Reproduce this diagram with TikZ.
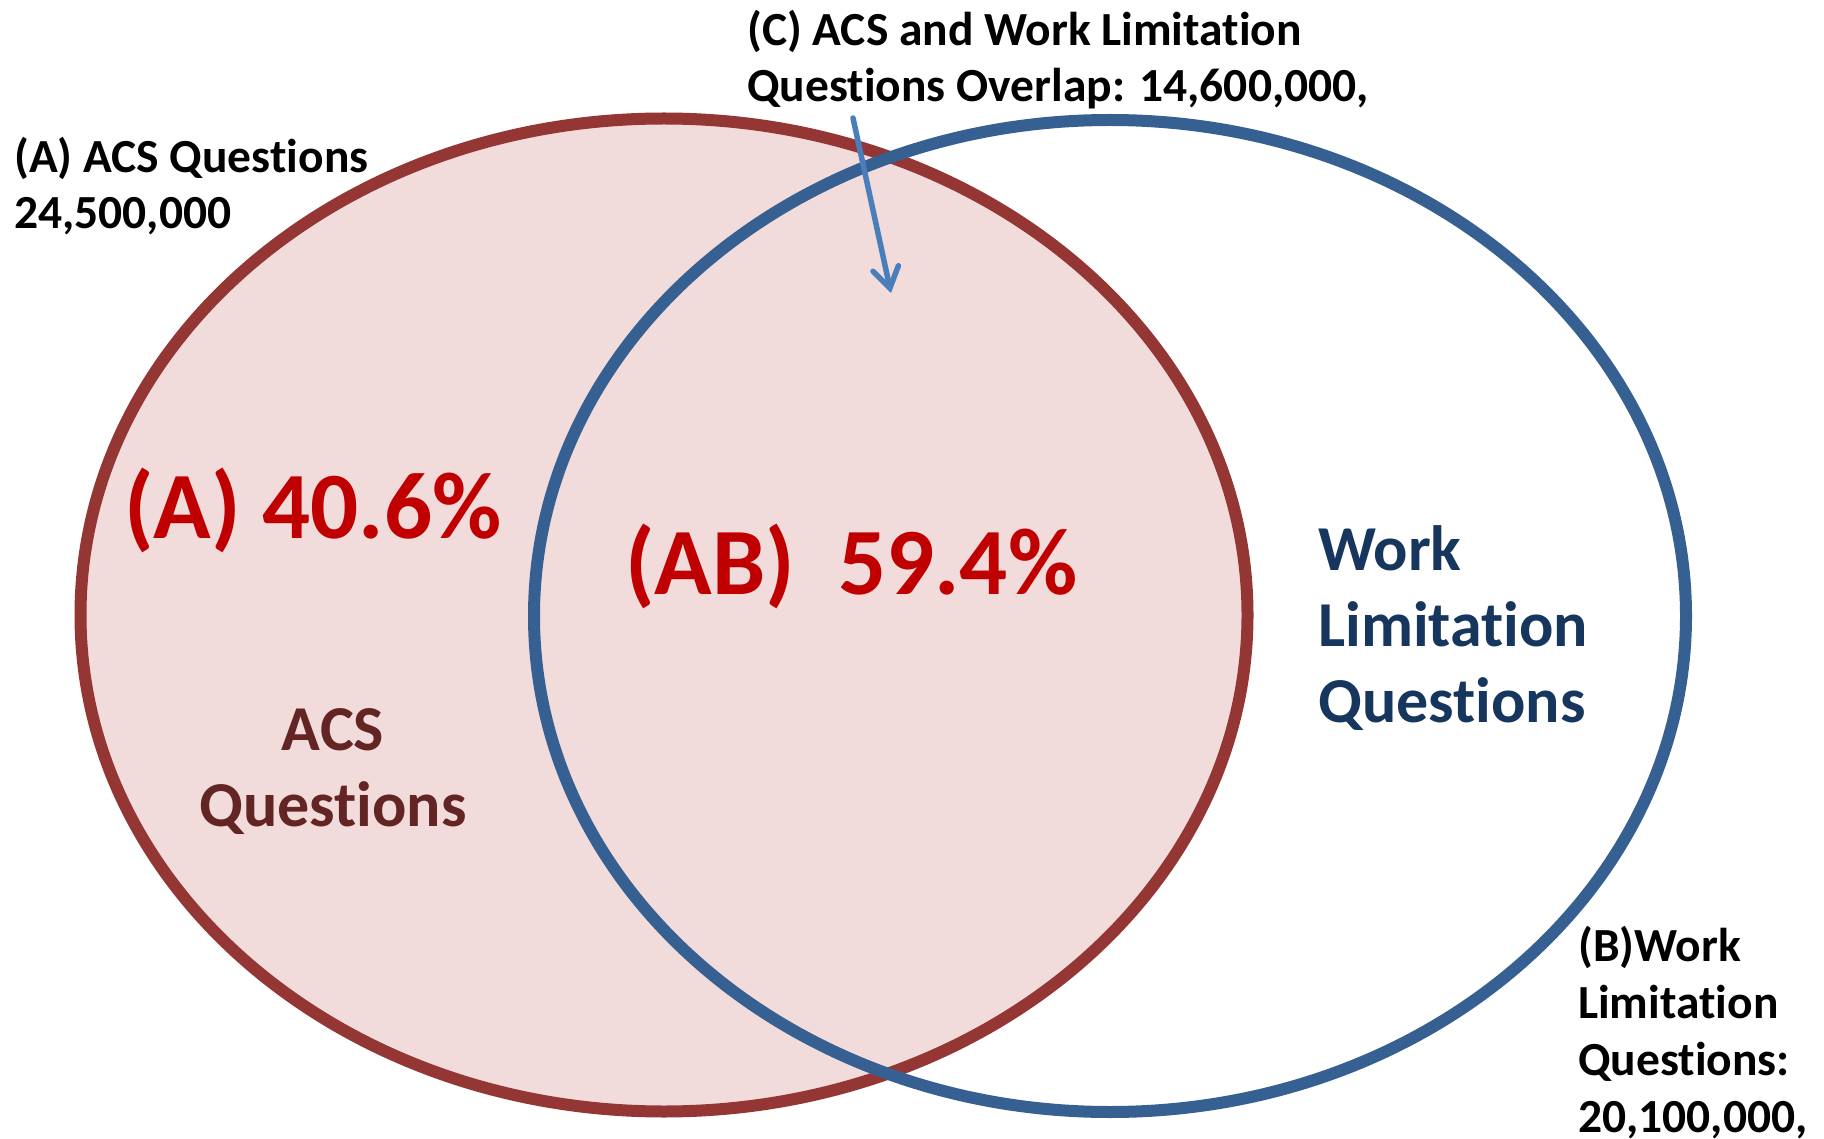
\documentclass[tikz,border=0pt]{standalone}
\usepackage{fontspec}
\setmainfont{Carlito}[Ligatures=NoCommon]
\usetikzlibrary{arrows.meta}
\definecolor{redline}{HTML}{943634}
\definecolor{redfill}{HTML}{F2DCDB}
\definecolor{blueline}{HTML}{366092}
\definecolor{arrowblue}{HTML}{4A7EBB}
\definecolor{pcred}{HTML}{C00000}
\definecolor{acsred}{HTML}{632523}
\definecolor{wlblue}{HTML}{17365D}
\tikzset{
  small/.style={font=\bfseries\fontsize{47.5}{56.7}\selectfont, text=black, inner sep=0pt, align=left, anchor=base west},
  mid/.style={font=\bfseries\fontsize{64}{76}\selectfont, inner sep=0pt, anchor=base},
  big/.style={font=\bfseries\fontsize{95}{110}\selectfont, text=pcred, inner sep=0pt, anchor=base west},
  setline/.style={line width=12pt}
}
\begin{document}
\begin{tikzpicture}[x=1pt,y=-1pt]
\useasboundingbox (0,0) rectangle (1824,1139);
\fill[white] (0,0) rectangle (1824,1139);
% sets
\fill[redfill] (664,615) ellipse [x radius=583.5, y radius=496.5];
\draw[setline, redline] (664,615) ellipse [x radius=583.5, y radius=496.5];
\draw[setline, blueline] (1110,616) ellipse [x radius=576, y radius=496];
% labels (base = baseline of last line)
\node[small] (la) at (14,229) {(A) ACS Questions\\24,500,000};
\node[small] (lc) at (747,102) {(C) ACS and Work Limitation\\Questions Overlap: 14,600,000,};
\node[small] (lb) at (1578,1132) {(B)Work\\Limitation\\Questions:\\20,100,000,};
\node[big] (pa) at (124,538) {(A) 40.6\%};
\node[big] (pab) at (625,594) {(AB)\ \ 59.4\%};
\node[mid, text=acsred, align=center] (acs) at (333,826) {ACS\\Questions};
\node[mid, text=wlblue, align=left, anchor=base west] (wl) at (1318,722) {Work\\Limitation\\Questions};
% arrow
\coordinate (ctail) at (853,118);
\coordinate (ctip) at (891,293);
\draw[arrowblue, line width=5.5pt, line cap=round, -{Straight Barb[length=20pt,width=26pt,line cap=round]}] (ctail) -- (ctip);
\end{tikzpicture}
\end{document}
